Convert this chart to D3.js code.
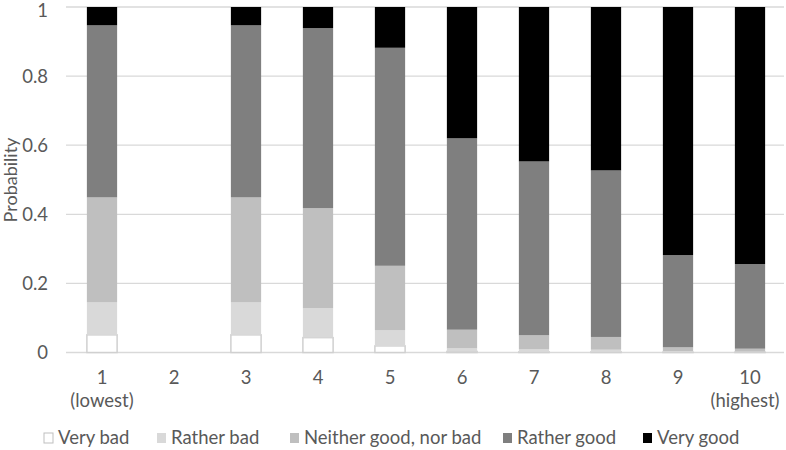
<!DOCTYPE html>
<html><head><meta charset="utf-8">
<script src="https://cdn.jsdelivr.net/npm/d3@7"></script>
<style>body{margin:0;background:#fff}svg{display:block;font-family:Lato,"Open Sans",sans-serif}</style>
</head><body>
<svg id="c" width="786" height="450"></svg>
<script>
const categories = ["1","2","3","4","5","6","7","8","9","10"];
const subLabels = ["(lowest)","","","","","","","","","(highest)"];
const seriesNames = ["Very bad","Rather bad","Neither good, nor bad","Rather good","Very good"];
const veryBad    = [0.051,0,0.051,0.043,0.019,0.003,0.002,0.002,0.001,0.001];
const ratherBad  = [0.094,0,0.094,0.085,0.046,0.009,0.007,0.006,0.003,0.002];
const neither    = [0.304,0,0.304,0.290,0.186,0.054,0.041,0.037,0.011,0.008];
const ratherGood = [0.498,0,0.498,0.521,0.631,0.554,0.503,0.482,0.267,0.245];
const veryGood   = [0.053,0,0.053,0.061,0.118,0.380,0.447,0.473,0.718,0.744];
const yTicks = [0,0.2,0.4,0.6,0.8,1];
const colors = ["#ffffff","#d9d9d9","#bfbfbf","#7f7f7f","#000000"];

const svg = d3.select("#c");
const m = {l:66, r:0};
const W = 786;
const FS = 18.5;
const x = d3.scaleBand().domain(categories).range([m.l, W - m.r]).paddingInner(0.58).paddingOuter(0.29);
const y = d3.scaleLinear().domain([0,1]).range([352.5, 7]);

svg.append("g").selectAll("line").data(yTicks).join("line")
  .attr("x1", m.l).attr("x2", W-2).attr("y1", d=>y(d)).attr("y2", d=>y(d))
  .attr("stroke", "#d9d9d9").attr("stroke-width", 1.3);

svg.append("g").selectAll("text").data(yTicks).join("text")
  .attr("x", 48).attr("y", d=>Math.max(y(d), 11)).attr("dy","0.35em").attr("text-anchor","end")
  .attr("font-size", FS).attr("fill", "#595959").text(d=>d3.format("")(d));

svg.append("text").attr("transform","translate(11,180) rotate(-90)").attr("text-anchor","middle")
  .attr("dy","0.35em").attr("font-size",18).attr("fill","#595959").text("Probability");

const rows = categories.map((c,i)=>({cat:c, 0:veryBad[i],1:ratherBad[i],2:neither[i],3:ratherGood[i],4:veryGood[i]}));
const stack = d3.stack().keys([0,1,2,3,4])(rows);
svg.append("g").selectAll("g").data(stack).join("g")
  .attr("fill", (d,i)=>colors[i])
  .attr("stroke", (d,i)=> i===0 ? "#d0d0d0" : "none")
  .attr("stroke-width", 1.5)
  .selectAll("rect").data(d=>d.filter(p=>p[1]-p[0]>0)).join("rect")
  .attr("x", d=>x(d.data.cat)).attr("width", x.bandwidth())
  .attr("y", d=>y(d[1])).attr("height", d=>y(d[0])-y(d[1]));

const xl = svg.append("g");
xl.selectAll("text.a").data(categories).join("text").attr("class","a")
  .attr("x", d=>x(d)+x.bandwidth()/2).attr("y", 384).attr("text-anchor","middle")
  .attr("font-size",FS).attr("fill","#595959").text(d=>d);
xl.selectAll("text.b").data(categories.map((c,i)=>({c, s:subLabels[i]})).filter(d=>d.s)).join("text").attr("class","b")
  .attr("x", d=>Math.min(x(d.c)+x.bandwidth()/2, 745)).attr("y", 407).attr("text-anchor","middle")
  .attr("font-size",FS).attr("fill","#595959").text(d=>d.s);

const legX = [44,157,290,503,643];
const lg = svg.append("g").selectAll("g").data(seriesNames).join("g")
  .attr("transform",(d,i)=>`translate(${legX[i]},438)`);
lg.append("rect").attr("x",0).attr("y",-5).attr("width",9).attr("height",10)
  .attr("fill",(d,i)=>colors[i]).attr("stroke",(d,i)=>i===0?"#bfbfbf":"none");
lg.append("text").attr("x",14).attr("y",0).attr("dy","0.35em").attr("font-size",FS)
  .attr("fill","#595959").text(d=>d);
</script>
</body></html>
